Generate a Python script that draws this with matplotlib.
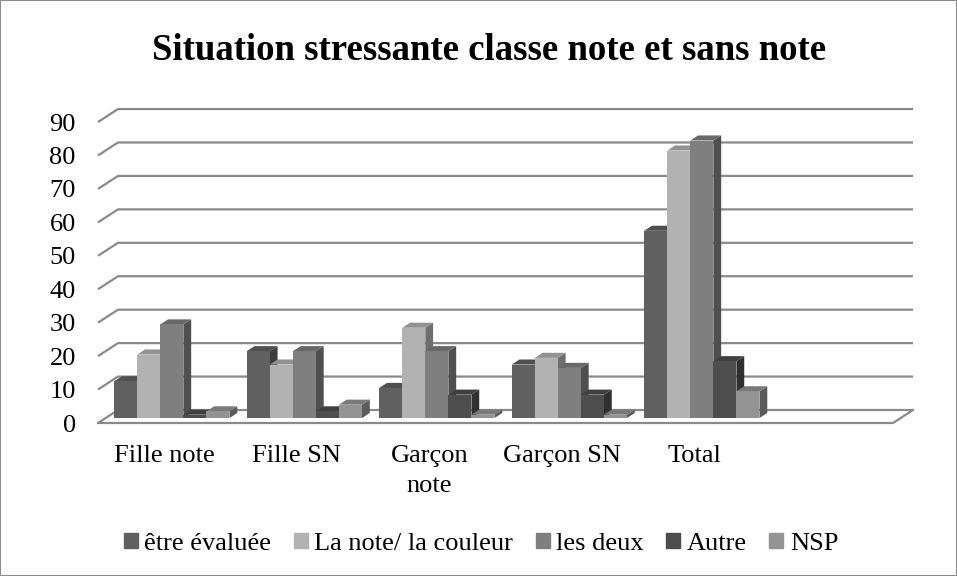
import numpy as np
import matplotlib
matplotlib.use("Agg")
import matplotlib.pyplot as plt
from matplotlib.patches import Polygon, Patch, Rectangle

# data
categories = ["Fille note", "Fille SN", "Garçon\nnote", "Garçon SN", "Total"]
series = ["être évaluée", "La note/ la couleur", "les deux", "Autre", "NSP"]
etre_evaluee = [11, 20, 9, 16, 56]
la_note = [19, 16, 27, 18, 80]
les_deux = [28, 20, 20, 15, 83]
autre = [1, 2, 7, 7, 17]
nsp = [2, 4, 1, 1, 8]
values = [etre_evaluee, la_note, les_deux, autre, nsp]
colors = ["#606060", "#b2b2b2", "#7f7f7f", "#4d4d4d", "#939393"]

plt.rcParams['font.family'] = ['Liberation Serif', 'DejaVu Serif']

fig = plt.figure(figsize=(9.57, 5.76), dpi=100)

# fake 3D: depth offset of the back wall, in data units
n_slots = 6
DX = 20 / 132.5
DY = 13 / 3.344
ymax = 90

px_x = 132.5  # pixels per category
px_y = 3.344  # pixels per unit value
ax = fig.add_axes([98 / 957, (576 - 423) / 576,
                   (n_slots + DX) * px_x / 957, (ymax + DY) * px_y / 576])
ax.set_xlim(0, n_slots + DX)
ax.set_ylim(0, ymax + DY)
for s in ax.spines.values():
    s.set_visible(False)

grid_c = "#8a8a8a"
# back wall gridlines with the side wall diagonal
for v in range(0, ymax + 1, 10):
    ax.plot([0, DX, n_slots + DX], [v, v + DY, v + DY], color=grid_c, lw=1.6,
            zorder=1, clip_on=False, solid_capstyle='butt')
# floor front edge and right diagonal
ax.plot([0, n_slots, n_slots + DX], [0, 0, DY], color=grid_c, lw=1.6,
        zorder=1, clip_on=False)

# bars
w = 0.174
f0, f1 = 0.38, 0.77
a0, b0 = f0 * DX, f0 * DY
a1, b1 = f1 * DX, f1 * DY
z = 2
for i in range(len(categories)):
    start = i + 0.5 - w * len(series) / 2
    for j, col in enumerate(colors):
        v = values[j][i]
        xl = start + j * w
        c = np.array(matplotlib.colors.to_rgb(col))
        side = Polygon([(xl + w + a0, b0), (xl + w + a1, b1),
                        (xl + w + a1, v + b1), (xl + w + a0, v + b0)],
                       closed=True, fc=c * 0.62, ec='none', zorder=z, clip_on=False)
        top = Polygon([(xl + a0, v + b0), (xl + w + a0, v + b0),
                       (xl + w + a1, v + b1), (xl + a1, v + b1)],
                      closed=True, fc=c * 0.82, ec='none', zorder=z + 0.1, clip_on=False)
        ax.add_patch(side)
        ax.add_patch(top)
        ax.bar(xl + a0, v, width=w, bottom=b0, align='edge', color=col,
               lw=0, zorder=z + 0.2, clip_on=False)
        z += 1

ax.set_yticks(np.arange(0, ymax + 1, 10))
ax.set_xticks(np.arange(len(categories)) + 0.5)
ax.set_xticklabels(categories, fontsize=19, linespacing=1.45)
ax.tick_params(axis='y', length=0, pad=16, labelsize=19)
ax.tick_params(axis='x', length=0, pad=16)

fig.text(489 / 957, 1 - 60 / 576, "Situation stressante classe note et sans note",
         ha='center', va='baseline', fontsize=26.5, fontweight='bold')

handles = [Patch(color=c) for c in colors]
fig.legend(handles, series, loc='center', bbox_to_anchor=(481 / 957, 1 - 544 / 576),
           ncol=5, frameon=False, fontsize=19, handlelength=0.53, handleheight=0.53,
           handletextpad=0.25, columnspacing=0.85)

fig.patches.append(Rectangle((0, 0), 1, 1, transform=fig.transFigure, fill=False,
                             ec="#8c8c8c", lw=1.5))

fig.savefig("out.png", dpi=100)
